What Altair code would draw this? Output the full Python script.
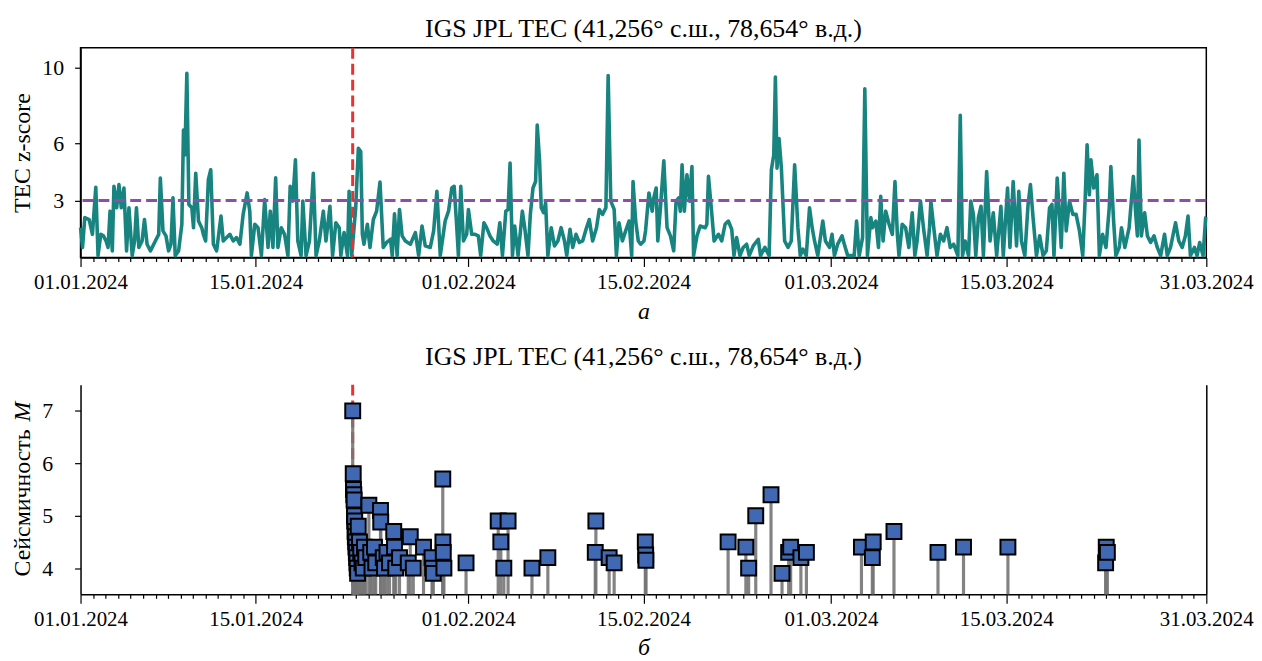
import altair as alt
import pandas as pd

BASE_MS = 1704067200000  # 2024-01-01T00:00:00Z
DAY_MS = 86400000

# TEC z-score: (day since 01.01.2024, z)
tec_jan_a = [
    (0.00, 1.57), (0.16, 0.53), (0.34, 2.10), (0.69, 2.00), (0.95, 1.22), (1.22, 3.70), (1.40, 0.10),
    (1.62, 1.22), (1.83, 1.14), (2.04, 0.87), (2.20, 0.53), (2.36, 2.44), (2.54, 0.35), (2.67, 3.75),
    (2.89, 2.62), (3.07, 3.84), (3.26, 2.62), (3.47, 3.66), (3.68, 0.35), (3.87, 2.62), (4.13, 0.10),
    (4.32, 0.87), (4.47, 2.62), (4.66, 0.53), (4.92, 0.87), (5.11, 2.00), (5.32, 0.70), (5.59, 0.35),
    (5.98, 0.87), (6.25, 1.22), (6.38, 4.18), (6.59, 1.40), (6.83, 1.14), (7.04, 0.35), (7.23, 0.70),
    (7.39, 3.14), (7.57, 0.10), (7.84, 0.35), (8.10, 1.75), (8.23, 6.71), (8.34, 5.40), (8.50, 9.70),
    (8.66, 2.79), (8.90, 2.62), (9.03, 1.57), (9.21, 4.44), (9.43, 1.92), (9.69, 1.57), (9.82, 1.22),
    (10.00, 0.87), (10.22, 4.10), (10.41, 4.62), (10.62, 0.70), (10.88, 0.35), (11.23, 2.18),
    (11.41, 0.87), (11.68, 1.05), (11.94, 1.22), (12.21, 0.87), (12.47, 1.05), (12.74, 0.70),
    (13.00, 2.27), (13.32, 3.40), (13.53, 2.44), (13.66, 0.10), (13.93, 1.75), (14.19, 1.57),
    (14.46, 0.10), (14.72, 3.05), (14.99, 0.53), (15.17, 2.44), (15.38, 0.53), (15.60, 4.20),
    (15.78, 0.53), (16.04, 1.57), (16.31, 1.22), (16.58, 0.10), (16.76, 3.75), (16.97, 2.97),
    (17.18, 5.14), (17.37, 0.87), (17.63, 0.10), (17.77, 2.97), (18.03, 0.10), (18.30, 0.87),
    (18.61, 4.44), (18.83, 0.10), (19.09, 0.87), (19.41, 2.44), (19.62, 0.87), (19.94, 2.70),
    (20.15, 0.10), (20.41, 1.83), (20.68, 1.57), (20.81, 0.10), (21.07, 1.31), (21.34, 0.10),
    (21.47, 3.49), (21.68, 0.10), (22.00, 2.62), (22.21, 5.75), (22.40, 5.58),
]
tec_jan_b = [
    (22.53, 1.22), (22.66, 0.70), (22.93, 1.75), (23.14, 0.53), (23.41, 2.00), (23.67, 2.44),
    (23.94, 3.97), (24.20, 0.53), (24.47, 0.79), (24.78, 0.96), (24.92, 0.10), (25.10, 2.30),
    (25.31, 0.10), (25.50, 2.53), (25.71, 1.14), (25.97, 0.87), (26.37, 0.70), (26.77, 1.31),
    (27.03, 0.10), (27.30, 1.66), (27.56, 0.61), (27.96, 0.53), (28.23, 1.40), (28.49, 3.49),
    (28.76, 0.10), (29.15, 1.92), (29.42, 2.44), (29.68, 3.66), (29.87, 3.75), (30.08, 1.57),
    (30.21, 0.10), (30.40, 3.75), (30.61, 0.87), (30.87, 1.22), (31.01, 2.53), (31.27, 1.22),
    (31.54, 1.22), (31.80, 1.14), (31.99, 0.10), (32.25, 1.83), (32.46, 1.57), (32.73, 1.14),
    (32.99, 0.87), (33.31, 0.70), (33.52, 1.83), (33.73, 0.10), (34.00, 2.44), (34.18, 2.53),
    (34.34, 4.97), (34.53, 0.10), (34.71, 1.66), (34.98, 0.10), (35.32, 2.44), (35.51, 1.57),
    (35.77, 0.10), (35.96, 2.27), (36.17, 3.66), (36.38, 4.00), (36.51, 6.97), (36.70, 5.06),
    (36.83, 2.62), (37.02, 2.36), (37.18, 2.88), (37.36, 0.10), (37.63, 1.57), (37.89, 0.61),
    (38.16, 0.87), (38.42, 1.57), (38.69, 0.87), (38.87, 0.10), (39.13, 1.48), (39.35, 0.53),
    (39.61, 1.22), (39.88, 0.79), (40.14, 0.87), (40.41, 1.48), (40.67, 2.00), (40.94, 0.87),
    (41.25, 1.57), (41.47, 2.53), (41.73, 2.27), (42.00, 2.62), (42.18, 9.58), (42.39, 2.97),
    (42.66, 2.53), (42.84, 0.10), (43.05, 1.83), (43.32, 0.87), (43.58, 1.40), (43.85, 1.92),
    (44.06, 0.10), (44.17, 4.00), (44.38, 1.92), (44.59, 0.87), (44.78, 0.70), (45.04, 0.87),
]
tec_feb = [
    (45.17, 1.40), (45.44, 3.40), (45.70, 2.44), (45.83, 3.14), (46.02, 3.66), (46.15, 0.87),
    (46.36, 2.62), (46.63, 5.09), (46.89, 1.57), (47.16, 1.14), (47.42, 0.35), (47.61, 2.97),
    (47.82, 3.14), (47.95, 2.44), (48.09, 4.88), (48.27, 2.44), (48.48, 4.36), (48.69, 2.97),
    (48.88, 4.79), (49.01, 0.10), (49.28, 1.14), (49.54, 1.66), (49.94, 1.57), (50.07, 1.75),
    (50.20, 4.27), (50.47, 2.27), (50.65, 0.87), (51.00, 1.22), (51.26, 0.87), (51.53, 1.75),
    (51.79, 1.92), (52.06, 1.48), (52.24, 0.10), (52.45, 1.05), (52.72, 0.10), (52.98, 0.53),
    (53.25, 0.70), (53.46, 0.10), (53.78, 0.61), (54.18, 0.96), (54.36, 0.10), (54.71, 0.53),
    (55.05, 0.10), (55.23, 4.62), (55.42, 5.40), (55.55, 9.50), (55.68, 4.70), (55.84, 6.27),
    (56.03, 4.70), (56.29, 0.87), (56.56, 0.53), (56.82, 0.87), (57.09, 4.88), (57.35, 1.57),
    (57.54, 0.10), (57.75, 0.44), (58.02, 0.10), (58.28, 2.62), (58.49, 1.57), (58.68, 0.87),
    (58.94, 0.10), (59.34, 1.92), (59.55, 0.87), (59.87, 0.53), (60.08, 1.22), (60.27, 0.10),
    (60.53, 0.70), (60.88, 1.14), (61.06, 0.70), (61.33, 0.10), (61.85, 0.10), (62.04, 1.92),
    (62.25, 0.10), (62.52, 1.05), (62.70, 8.88), (62.91, 0.10), (63.18, 2.10), (63.31, 1.57),
    (63.58, 1.92), (63.79, 0.53), (63.97, 3.22), (64.16, 0.87), (64.37, 2.44), (64.64, 1.75),
    (64.90, 1.22), (65.11, 4.00), (65.30, 1.22), (65.43, 0.10), (65.69, 1.75), (65.96, 1.57),
    (66.22, 0.53), (66.49, 2.36), (66.70, 0.10), (66.88, 0.87), (67.15, 2.97), (67.42, 1.40),
    (67.68, 0.10), (67.87, 1.57),
]
tec_mar = [
    (67.98, 2.97), (68.21, 1.57), (68.47, 0.10), (68.74, 1.22), (69.00, 0.87), (69.27, 1.57),
    (69.53, 0.53), (69.80, 0.70), (70.14, 0.10), (70.33, 7.49), (70.51, 0.10), (70.72, 0.87),
    (70.99, 0.10), (71.17, 2.97), (71.38, 2.27), (71.57, 0.10), (71.78, 2.10), (71.99, 2.70),
    (72.18, 0.10), (72.44, 4.53), (72.71, 0.87), (72.97, 2.36), (73.24, 0.10), (73.58, 2.70),
    (73.77, 0.10), (74.11, 3.66), (74.30, 0.53), (74.56, 4.00), (74.83, 0.61), (75.01, 3.49),
    (75.22, 0.87), (75.49, 0.10), (75.75, 2.79), (75.94, 3.84), (76.15, 2.10), (76.42, 0.10),
    (76.68, 1.14), (76.95, 0.10), (77.21, 0.35), (77.47, 2.62), (77.66, 2.79), (77.82, 0.10),
    (78.08, 4.18), (78.27, 2.10), (78.40, 0.53), (78.61, 4.44), (78.80, 1.40), (79.06, 2.97),
    (79.33, 2.27), (79.59, 2.27), (79.86, 1.40), (80.12, 0.10), (80.31, 2.97), (80.47, 5.93),
    (80.65, 3.30), (80.78, 5.14), (81.00, 3.66), (81.26, 4.36), (81.45, 0.10), (81.71, 1.22),
    (81.98, 0.53), (82.24, 2.62), (82.37, 4.79), (82.59, 1.92), (82.77, 0.10), (83.04, 0.53),
    (83.22, 1.57), (83.49, 0.53), (83.83, 1.57), (84.17, 4.27), (84.36, 2.27), (84.49, 1.14),
    (84.62, 6.19), (84.81, 1.14), (85.07, 2.36), (85.29, 1.14), (85.55, 0.79), (85.82, 1.14),
    (86.08, 0.53), (86.35, 0.10), (86.66, 1.22), (86.88, 0.10), (87.14, 0.53), (87.54, 1.83),
    (87.80, 0.87), (88.07, 0.53), (88.33, 1.14), (88.54, 2.18), (88.73, 0.10), (89.05, 0.53),
    (89.26, 0.10), (89.47, 0.79), (89.74, 0.10), (89.95, 2.10), (90.00, 2.15),
]

# Earthquakes: (day since 01.01.2024, magnitude M)
quakes = [
    (21.76, 7.0), (21.80, 5.8), (21.82, 5.5), (21.85, 5.4), (21.87, 5.3), (21.90, 5.0), (21.92, 4.9),
    (21.95, 4.7), (21.97, 4.6), (22.00, 4.5), (22.02, 4.4), (22.05, 4.3), (22.08, 4.2), (22.10, 4.1),
    (22.12, 4.0), (22.15, 3.9), (22.20, 4.8), (22.30, 4.5), (22.40, 4.3), (22.50, 4.1), (22.60, 4.0),
    (22.70, 4.4), (22.80, 4.2), (23.05, 5.2), (23.20, 4.3), (23.30, 4.0), (23.50, 4.4), (23.60, 4.1),
    (23.98, 5.1), (24.00, 4.88), (24.20, 4.2), (24.30, 4.0), (24.50, 4.3), (24.70, 4.1), (25.04, 4.7),
    (25.10, 4.4), (25.20, 4.0), (25.50, 4.2), (26.20, 4.1), (26.36, 4.6), (26.60, 4.0), (27.42, 4.4),
    (28.10, 4.2), (28.15, 4.0), (28.20, 3.9), (28.96, 5.7), (28.97, 4.5), (29.00, 4.3), (29.05, 4.0),
    (30.82, 4.1), (33.39, 4.9), (33.60, 4.5), (33.84, 4.0), (34.18, 4.9), (36.09, 4.0), (37.36, 4.2),
    (41.15, 4.3), (41.20, 4.9), (42.26, 4.2), (42.66, 4.1), (45.15, 4.5), (45.18, 4.25), (45.20, 4.15),
    (51.77, 4.5), (53.19, 4.4), (53.41, 4.0), (53.98, 5.0), (55.20, 5.4), (56.08, 3.9), (56.61, 4.3),
    (56.77, 4.4), (57.59, 4.2), (58.03, 4.3), (62.43, 4.4), (63.30, 4.2), (63.37, 4.5), (65.03, 4.7),
    (68.55, 4.3), (70.59, 4.4), (74.14, 4.4), (81.95, 4.1), (82.00, 4.4), (82.09, 4.3),
]

threshold_z = [3.0]
mainshock_day = [21.756]
y_ticks_top = [3, 6, 10]
y_ticks_bottom = [4, 5, 6, 7]
panel_title = "IGS JPL TEC (41,256° с.ш., 78,654° в.д.)"
ytitle_word = "Сейсмичность"
ytitle_symbol = "M"
FONT = "Liberation Serif"

tec = pd.DataFrame(tec_jan_a + tec_jan_b + tec_feb + tec_mar, columns=["day", "z"])
tec["t"] = BASE_MS + tec["day"] * DAY_MS
eq = pd.DataFrame(quakes, columns=["day", "m"])
eq["t"] = BASE_MS + eq["day"] * DAY_MS
eq["base"] = 3.5
thr = pd.DataFrame({"z": threshold_z})
ms = pd.DataFrame({"t": [BASE_MS + d * DAY_MS for d in mainshock_day]})

tick_values = [BASE_MS + i * DAY_MS for i in range(91)]
major = ("(utcdate(datum.value) == 1 || utcdate(datum.value) == 15 || "
         "(utcmonth(datum.value) == 2 && utcdate(datum.value) == 31))")


def x_axis(letter):
    return alt.Axis(
        values=tick_values,
        labelExpr=f"{major} ? utcFormat(datum.value, '%d.%m.%Y') : ''",
        tickSize={"condition": {"test": major, "value": 9}, "value": 4},
        labelOverlap=False, labelFlush=False, grid=False,
        labelFontSize=21, labelPadding=5,
        title=letter, titleFontStyle="italic", titleFontSize=24, titlePadding=7,
    )


x_scale = alt.Scale(type="utc", domain=[BASE_MS, BASE_MS + 90 * DAY_MS], nice=False)
W, H = 1133, 211


def title_params(offset):
    return alt.TitleParams(text=panel_title, font=FONT, fontSize=26, fontWeight="normal",
                           anchor="middle", offset=offset, color="black")


# ---- top panel
xa_top = x_axis("а")
line = alt.Chart(tec).mark_line(color="#178480", strokeWidth=3.6, strokeJoin="round").encode(
    x=alt.X("t:T", scale=x_scale, axis=xa_top),
    y=alt.Y("z:Q", scale=alt.Scale(domain=[0, 11.04], nice=False, zero=False),
            axis=alt.Axis(values=y_ticks_top, title="TEC z-score", grid=False, labelFontSize=22,
                          titleFontSize=24, tickSize=6, labelPadding=11, titlePadding=7)),
)
hline = alt.Chart(thr).mark_rule(color="#8e4ea8", strokeWidth=3, strokeDash=[11, 5]).encode(y="z:Q")
vline = alt.Chart(ms).mark_rule(color="#ee3030", strokeWidth=3, strokeDash=[11, 5]).encode(
    x=alt.X("t:T", scale=x_scale, axis=xa_top))
top = alt.layer(line, hline, vline).properties(
    width=W, height=H, title=title_params(4),
    view=alt.ViewBackground(stroke="black", strokeWidth=1.5),
)

# ---- bottom panel
xa_bot = x_axis("б")
y_scale_b = alt.Scale(domain=[3.5, 7.5], nice=False, zero=False)
vline2 = alt.Chart(ms).mark_rule(color="#ee3030", strokeWidth=3, strokeDash=[11, 5]).encode(
    x=alt.X("t:T", scale=x_scale, axis=xa_bot))
stems = alt.Chart(eq).mark_rule(color="#767676", strokeWidth=3.2, opacity=0.9).encode(
    x=alt.X("t:T", scale=x_scale, axis=xa_bot),
    y=alt.Y("m:Q", scale=y_scale_b,
            axis=alt.Axis(orient="right", labels=False, ticks=False, title=None, grid=False)),
    y2="base:Q",
)
squares = alt.Chart(eq).mark_square(size=225, fill="#4169b3", stroke="black", strokeWidth=2,
                                    opacity=1).encode(
    x=alt.X("t:T", scale=x_scale, axis=xa_bot),
    y=alt.Y("m:Q", scale=y_scale_b,
            axis=alt.Axis(values=y_ticks_bottom, title=None, grid=False, labelFontSize=22,
                          tickSize=6, labelPadding=22)),
)
# y-axis title with an italic "M": two rotated text pieces placed left of the axis
ytitle_a = alt.Chart(pd.DataFrame({"s": [ytitle_word]})).mark_text(
    angle=270, align="left", baseline="middle", font=FONT, fontSize=24, color="black"
).encode(text="s:N", x=alt.value(-58), y=alt.value(193))
ytitle_b = alt.Chart(pd.DataFrame({"s": [ytitle_symbol]})).mark_text(
    angle=270, align="left", baseline="middle", font=FONT, fontSize=24, fontStyle="italic",
    color="black"
).encode(text="s:N", x=alt.value(-58), y=alt.value(37))

bottom = alt.layer(vline2, stems, squares, ytitle_a, ytitle_b).resolve_axis(y="independent").properties(
    width=W, height=H, title=title_params(13),
    view=alt.ViewBackground(stroke="transparent", strokeWidth=0),
)

chart = alt.vconcat(top, bottom, spacing=20).properties(
    padding={"left": 2, "right": 0, "top": 5, "bottom": 0}
).configure(font=FONT).configure_axis(
    domainColor="black", domainWidth=1.5, tickColor="black", tickWidth=1.2,
    labelColor="black", titleColor="black", titleFontWeight="normal",
    labelFont=FONT, titleFont=FONT,
).configure_view(stroke="transparent")

chart.save("out.html", embed_options={"renderer": "svg", "actions": False})
